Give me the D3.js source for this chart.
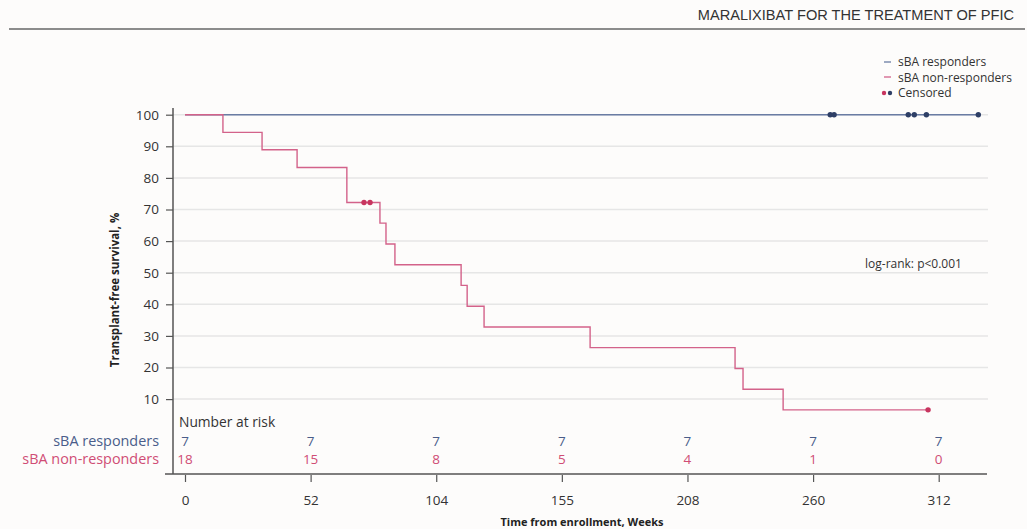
<!DOCTYPE html>
<html>
<head>
<meta charset="utf-8">
<script src="https://cdn.jsdelivr.net/npm/d3@7"></script>
<style>
  body { margin:0; background:#fdfcfb; }
  svg { display:block; font-family:"Open Sans", sans-serif; }
</style>
</head>
<body>
<svg id="chart" width="1027" height="529"></svg>
<script>
// data (weeks / survival %)
var xTicks = [0, 52, 104, 156, 208, 260, 312];
var xTickLabels = ["0", "52", "104", "155", "208", "260", "312"];
var yTicks = [10, 20, 30, 40, 50, 60, 70, 80, 90, 100];

// sBA non-responders: step start times and survival after each step
var nonRespTimes = [0, 15.7, 31.9, 46.4, 67.0, 80.7, 83.2, 86.9, 114.3, 116.8, 123.8, 167.7, 227.7, 231.0, 247.6];
var nonRespSurv  = [100, 94.4, 88.9, 83.3, 72.2, 65.7, 59.1, 52.5, 46.0, 39.4, 32.8, 26.3, 19.7, 13.1, 6.6];
var nonRespEnd = 307.6;
var nonRespCensTimes = [74.1, 76.6, 307.6];
var nonRespCensSurv  = [72.2, 72.2, 6.6];

// sBA responders
var respTimes = [0];
var respSurv  = [100];
var respEnd = 328.4;
var respCensTimes = [267.1, 268.7, 299.4, 301.9, 306.9, 328.4];
var respCensSurv  = [100, 100, 100, 100, 100, 100];

// number at risk
var riskGroups = ["sBA responders", "sBA non-responders"];
var riskResp    = [7, 7, 7, 7, 7, 7, 7];
var riskNonResp = [18, 15, 8, 5, 4, 1, 0];

var blue = "#4a5d8a", pink = "#d04d75";
var blueLine = "#6a7ca3", pinkLine = "#d3628a";

var svg = d3.select("#chart");

// header
svg.append("text")
	.attr("x", 1014).attr("y", 20)
	.attr("text-anchor", "end")
	.style("font-family", "'Liberation Sans', Arial, sans-serif")
	.style("font-size", "14.6px")
	.attr("fill", "#333")
	.text("MARALIXIBAT FOR THE TREATMENT OF PFIC");
svg.append("line")
	.attr("x1", 9).attr("x2", 1025).attr("y1", 29).attr("y2", 29)
	.attr("stroke", "#8c8c8c").attr("stroke-width", 2);

var x = d3.scaleLinear().domain([0, 312]).range([185, 938.7]);
var y = d3.scaleLinear().domain([10, 100]).range([399.1, 114.7]);

// gridlines
svg.append("g").selectAll("line")
	.data(yTicks).enter().append("line")
	.attr("x1", 173).attr("x2", 988)
	.attr("y1", function(d){ return y(d); })
	.attr("y2", function(d){ return y(d); })
	.attr("stroke", "#e6e6e6").attr("stroke-width", 1.5);

// y axis
var yAxis = svg.append("g")
	.attr("transform", "translate(173,0)")
	.call(d3.axisLeft(y).tickValues(yTicks).tickSize(7).tickPadding(7));
yAxis.select(".domain").remove();
yAxis.selectAll("line").attr("stroke", "#555").attr("stroke-width", 1.2);
yAxis.selectAll("text").style("font-size", "13.5px").attr("fill", "#333").style("font-family", "'Open Sans', sans-serif");
svg.append("line")
	.attr("x1", 173).attr("x2", 173).attr("y1", 108).attr("y2", 474)
	.attr("stroke", "#555").attr("stroke-width", 1.5);

// x axis
var xAxis = svg.append("g")
	.attr("transform", "translate(0,475)")
	.call(d3.axisBottom(x).tickValues(xTicks).tickSize(7).tickPadding(13)
		.tickFormat(function(d, i){ return xTickLabels[i]; }));
xAxis.select(".domain").remove();
xAxis.selectAll("line").attr("stroke", "#555").attr("stroke-width", 1.2);
xAxis.selectAll("text").style("font-size", "13.5px").attr("fill", "#333").style("font-family", "'Open Sans', sans-serif");
svg.append("line")
	.attr("x1", 165).attr("x2", 987).attr("y1", 474).attr("y2", 474)
	.attr("stroke", "#555").attr("stroke-width", 1.5);

// axis titles
svg.append("text")
	.attr("x", 582).attr("y", 526)
	.attr("text-anchor", "middle")
	.style("font-size", "11px").style("font-weight", "bold")
	.attr("fill", "#222")
	.text("Time from enrollment, Weeks");
svg.append("text")
	.attr("transform", "translate(119,290) rotate(-90)")
	.attr("text-anchor", "middle")
	.style("font-size", "11.5px").style("font-weight", "bold")
	.attr("fill", "#222")
	.text("Transplant-free survival, %");

// KM curves
var line = d3.line()
	.x(function(d){ return x(d[0]); })
	.y(function(d){ return y(d[1]); })
	.curve(d3.curveStepAfter);

function curvePoints(times, surv, end){
	var pts = [];
	times.forEach(function(t, i){ pts.push([t, surv[i]]); });
	pts.push([end, surv[surv.length-1]]);
	return pts;
}

svg.append("path")
	.datum(curvePoints(respTimes, respSurv, respEnd))
	.attr("d", line)
	.attr("fill", "none").attr("stroke", blueLine).attr("stroke-width", 1.4);
svg.append("path")
	.datum(curvePoints(nonRespTimes, nonRespSurv, nonRespEnd))
	.attr("d", line)
	.attr("fill", "none").attr("stroke", pinkLine).attr("stroke-width", 1.4);

// censored marks
function drawCensored(times, surv, color){
	svg.append("g").selectAll("circle")
		.data(times).enter().append("circle")
		.attr("cx", function(d){ return x(d); })
		.attr("cy", function(d, i){ return y(surv[i]); })
		.attr("r", 2.7)
		.attr("fill", color);
}
drawCensored(respCensTimes, respCensSurv, "#2e3f66");
drawCensored(nonRespCensTimes, nonRespCensSurv, "#c8355f");

// legend
var lg = svg.append("g");
lg.append("line").attr("x1", 884).attr("x2", 891).attr("y1", 62).attr("y2", 62)
	.attr("stroke", blueLine).attr("stroke-width", 1.3);
lg.append("line").attr("x1", 884).attr("x2", 891).attr("y1", 77).attr("y2", 77)
	.attr("stroke", pinkLine).attr("stroke-width", 1.3);
lg.append("circle").attr("cx", 884).attr("cy", 93).attr("r", 2.2).attr("fill", "#c8355f");
lg.append("circle").attr("cx", 890).attr("cy", 93).attr("r", 2.2).attr("fill", "#2e3f66");
["sBA responders", "sBA non-responders", "Censored"].forEach(function(t, i){
	lg.append("text")
		.attr("x", 898).attr("y", 62 + i*15.5)
		.attr("dy", "0.35em")
		.style("font-size", "12px").attr("fill", "#333")
		.text(t);
});

// log-rank
svg.append("text")
	.attr("x", 865).attr("y", 264).attr("dy", "0.35em")
	.style("font-size", "12px").attr("fill", "#333")
	.text("log-rank: p<0.001");

// number at risk
svg.append("text")
	.attr("x", 179).attr("y", 422).attr("dy", "0.35em")
	.style("font-size", "13.8px").attr("fill", "#333")
	.text("Number at risk");

var riskRows = [riskResp, riskNonResp];
var riskColors = [blue, pink];
var riskY = [441, 459];
riskRows.forEach(function(row, r){
	svg.append("text")
		.attr("x", 159).attr("y", riskY[r]).attr("dy", "0.35em")
		.attr("text-anchor", "end")
		.style("font-size", "14.4px").attr("fill", riskColors[r])
		.text(riskGroups[r]);
	svg.append("g").selectAll("text")
		.data(row).enter().append("text")
		.attr("x", function(d, i){ return x(xTicks[i]); })
		.attr("y", riskY[r]).attr("dy", "0.35em")
		.attr("text-anchor", "middle")
		.style("font-size", "13.5px").attr("fill", riskColors[r])
		.text(function(d){ return d; });
});
</script>
</body>
</html>
